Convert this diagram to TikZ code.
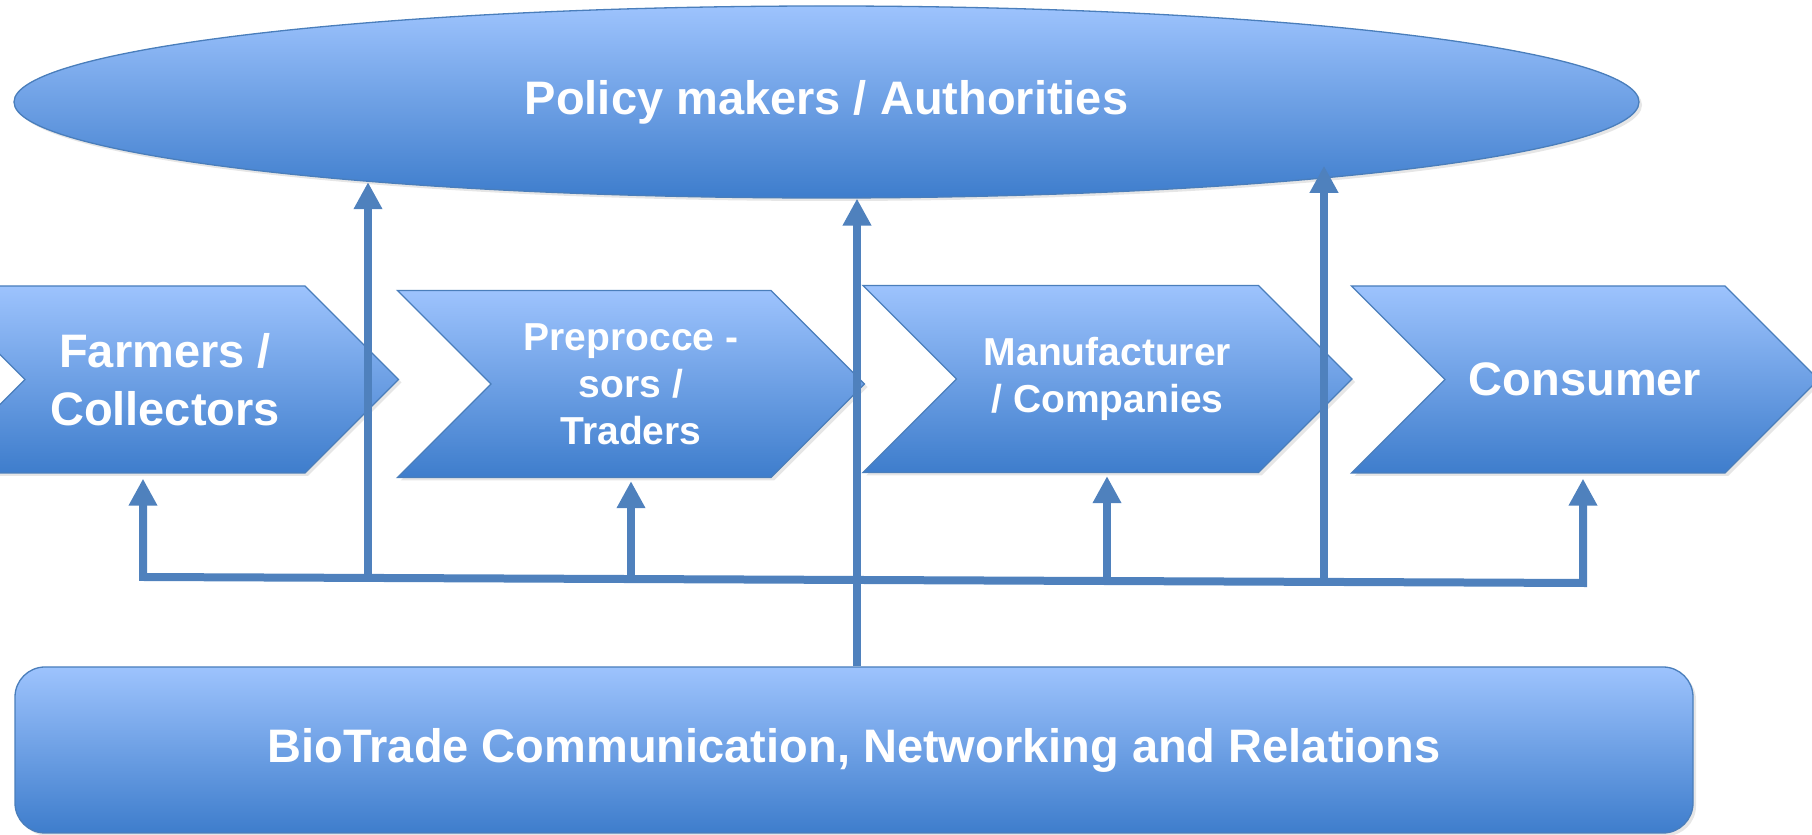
\documentclass[tikz,border=0pt]{standalone}
\usepackage{fontspec}
\setmainfont{Liberation Sans}
\usetikzlibrary{shapes.symbols, shapes.geometric, arrows.meta, shadows}
\definecolor{lightblue}{RGB}{157,195,253}
\definecolor{deepblue}{RGB}{62,125,204}
\definecolor{rimblue}{RGB}{74,126,187}
\definecolor{linkblue}{RGB}{79,129,189}
\newcommand\stagefont{\fontsize{47pt}{58pt}\selectfont}
\newcommand\smallstagefont{\fontsize{39pt}{47pt}\selectfont}
\tikzset{
  >={Triangle[width=27pt,length=27pt]},
  glossy/.style={draw=rimblue, line width=1.3pt, top color=lightblue, bottom color=deepblue,
    text=white, font=\bfseries\stagefont,
    drop shadow={opacity=0.2, shadow xshift=3pt, shadow yshift=-3pt}},
  stage/.style={glossy, signal, signal to=east, signal from=west, signal pointer angle=90,
    minimum width=467pt, minimum height=187pt, inner sep=0pt, align=center},
  link/.style={draw=linkblue, line width=8pt},
}

\begin{document}
\begin{tikzpicture}[x=1pt, y=1pt]
  \useasboundingbox (0,0) rectangle (1812,835);

  \node[glossy, ellipse, minimum width=1625pt, minimum height=192pt, inner sep=0pt] (policy) at (826.5,733) {Policy makers / Authorities};

  \node[stage]                          (farm) at (165,455.5)  {Farmers /\\Collectors};
  \node[stage, font=\bfseries\smallstagefont] (prep) at (631,451)    {Preprocce -\\sors /\\Traders};
  \node[stage, font=\bfseries\smallstagefont, minimum width=489pt] (manu) at (1107.5,456) {Manufacturer\\/ Companies};
  \node[stage]                          (cons) at (1585,455.5) {Consumer};

  \node[glossy, rounded corners=30pt, minimum width=1678pt, minimum height=166pt] (bio) at (854,85) {BioTrade Communication, Networking and Relations};

  % points on the bus line
  \coordinate (b1) at (143,258);
  \coordinate (b2) at (368,257.1);
  \coordinate (b3) at (631,256);
  \coordinate (b0) at (857,255);
  \coordinate (b4) at (1107,254);
  \coordinate (b5) at (1324,253.1);
  \coordinate (b6) at (1583,252);

  \draw[link, <->, shorten <=5pt, shorten >=5pt] (b1 |- farm.south) -- (b1) -- (b6) -- (b6 |- cons.south);
  \draw[link, ->, shorten >=3pt] (b3) -- (b3 |- prep.south);
  \draw[link, ->, shorten >=3pt] (b4) -- (b4 |- manu.south);

  \draw[link, ->] (b2) -- (b2 |- policy.-170.2);
  \draw[link, ->] (b0 |- bio.north) -- (b0 |- policy.-72.4);
  \draw[link, ->, shorten >=-10pt] (b5) -- (b5 |- policy.-8.7);
\end{tikzpicture}
\end{document}
